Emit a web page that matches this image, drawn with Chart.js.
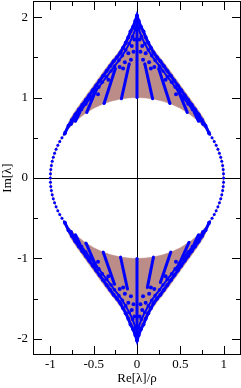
<!DOCTYPE html>
<html><head><meta charset="utf-8">
<script src="https://cdn.jsdelivr.net/npm/chart.js@4.4.1/dist/chart.umd.min.js"></script>
<style>html,body{margin:0;padding:0;background:#fff;}canvas{display:block;}</style>
</head><body>
<canvas id="c" width="241" height="388"></canvas>
<script>
// ---- axis ticks ----
const xTickValues = [-1, -0.5, 0, 0.5, 1];
const yTickValues = [-2, -1, 0, 1, 2];
const xMinorTicks = [-0.75, -0.25, 0.25, 0.75];
const yMinorTicks = [-1.5, -0.5, 0.5, 1.5];
const xTitle = 'Re[λ]/ρ';
const yTitle = 'Im[λ]';

// ---- brown filled bands (outline of region) ----
const brownUpper = [[0,2.03],[0.04,1.92],[0.08,1.82],[0.13,1.71],[0.18,1.62],[0.24,1.53],[0.30,1.45],[0.37,1.35],[0.45,1.23],[0.53,1.11],[0.61,0.99],[0.69,0.87],[0.77,0.74],[0.845,0.55],
  [0.80,0.60],[0.70,0.714],[0.60,0.80],[0.50,0.866],[0.40,0.917],[0.30,0.954],[0.20,0.98],[0.10,0.995],[0,1],[-0.10,0.995],[-0.20,0.98],[-0.30,0.954],[-0.40,0.917],[-0.50,0.866],[-0.60,0.80],[-0.70,0.714],[-0.80,0.60],
  [-0.845,0.55],[-0.77,0.74],[-0.69,0.87],[-0.61,0.99],[-0.53,1.11],[-0.45,1.23],[-0.37,1.35],[-0.30,1.45],[-0.24,1.53],[-0.18,1.62],[-0.13,1.71],[-0.08,1.82],[-0.04,1.92]];
const brownLower = [[0,-2.03],[0.04,-1.92],[0.08,-1.82],[0.13,-1.71],[0.18,-1.62],[0.24,-1.53],[0.30,-1.45],[0.37,-1.35],[0.45,-1.23],[0.53,-1.11],[0.61,-0.99],[0.69,-0.87],[0.77,-0.74],[0.845,-0.55],
  [0.80,-0.60],[0.70,-0.714],[0.60,-0.80],[0.50,-0.866],[0.40,-0.917],[0.30,-0.954],[0.20,-0.98],[0.10,-0.995],[0,-1],[-0.10,-0.995],[-0.20,-0.98],[-0.30,-0.954],[-0.40,-0.917],[-0.50,-0.866],[-0.60,-0.80],[-0.70,-0.714],[-0.80,-0.60],
  [-0.845,-0.55],[-0.77,-0.74],[-0.69,-0.87],[-0.61,-0.99],[-0.53,-1.11],[-0.45,-1.23],[-0.37,-1.35],[-0.30,-1.45],[-0.24,-1.53],[-0.18,-1.62],[-0.13,-1.71],[-0.08,-1.82],[-0.04,-1.92]];

// ---- eigenvalues on the unit circle ----
const circleRight = [[0.8387,0.5446],[0.8660,0.5000],[0.8910,0.4540],[0.9135,0.4067],[0.9336,0.3584],[0.9511,0.3090],[0.9659,0.2588],[0.9781,0.2079],[0.9877,0.1564],[0.9945,0.1045],[0.9986,0.0523],[1,0],
  [0.9986,-0.0523],[0.9945,-0.1045],[0.9877,-0.1564],[0.9781,-0.2079],[0.9659,-0.2588],[0.9511,-0.3090],[0.9336,-0.3584],[0.9135,-0.4067],[0.8910,-0.4540],[0.8660,-0.5000],[0.8387,-0.5446]];
const circleLeft = [[-0.8387,0.5446],[-0.8660,0.5000],[-0.8910,0.4540],[-0.9135,0.4067],[-0.9336,0.3584],[-0.9511,0.3090],[-0.9659,0.2588],[-0.9781,0.2079],[-0.9877,0.1564],[-0.9945,0.1045],[-0.9986,0.0523],[-1,0],
  [-0.9986,-0.0523],[-0.9945,-0.1045],[-0.9877,-0.1564],[-0.9781,-0.2079],[-0.9659,-0.2588],[-0.9511,-0.3090],[-0.9336,-0.3584],[-0.9135,-0.4067],[-0.8910,-0.4540],[-0.8660,-0.5000],[-0.8387,-0.5446]];

// ---- eigenvalues along the outer edges ----
const outerUpper = [[-0.83,0.56],[-0.79,0.65],[-0.75,0.72],[-0.71,0.79],[-0.67,0.85],[-0.63,0.91],[-0.59,0.97],[-0.55,1.03],[-0.51,1.09],[-0.47,1.15],[-0.43,1.21],[-0.39,1.27],[-0.35,1.33],[-0.31,1.39],[-0.27,1.45],[-0.23,1.50],[-0.19,1.56],[-0.16,1.62],[-0.13,1.68],[-0.10,1.75],[-0.075,1.82],[-0.045,1.88],[-0.02,1.95],
  [0,2.02],[0.02,1.95],[0.045,1.88],[0.075,1.82],[0.10,1.75],[0.13,1.68],[0.16,1.62],[0.19,1.56],[0.23,1.50],[0.27,1.45],[0.31,1.39],[0.35,1.33],[0.39,1.27],[0.43,1.21],[0.47,1.15],[0.51,1.09],[0.55,1.03],[0.59,0.97],[0.63,0.91],[0.67,0.85],[0.71,0.79],[0.75,0.72],[0.79,0.65],[0.83,0.56]];
const outerLower = [[-0.83,-0.56],[-0.79,-0.65],[-0.75,-0.72],[-0.71,-0.79],[-0.67,-0.85],[-0.63,-0.91],[-0.59,-0.97],[-0.55,-1.03],[-0.51,-1.09],[-0.47,-1.15],[-0.43,-1.21],[-0.39,-1.27],[-0.35,-1.33],[-0.31,-1.39],[-0.27,-1.45],[-0.23,-1.50],[-0.19,-1.56],[-0.16,-1.62],[-0.13,-1.68],[-0.10,-1.75],[-0.075,-1.82],[-0.045,-1.88],[-0.02,-1.95],
  [0,-2.02],[0.02,-1.95],[0.045,-1.88],[0.075,-1.82],[0.10,-1.75],[0.13,-1.68],[0.16,-1.62],[0.19,-1.56],[0.23,-1.50],[0.27,-1.45],[0.31,-1.39],[0.35,-1.33],[0.39,-1.27],[0.43,-1.21],[0.47,-1.15],[0.51,-1.09],[0.55,-1.03],[0.59,-0.97],[0.63,-0.91],[0.67,-0.85],[0.71,-0.79],[0.75,-0.72],[0.79,-0.65],[0.83,-0.56]];
const innerUpper = [[-0.76,0.67],[-0.70,0.77],[-0.64,0.85],[-0.59,0.92],[-0.54,0.99],[-0.49,1.06],[-0.44,1.13],[-0.40,1.19],[-0.35,1.26],[-0.30,1.33],[-0.26,1.39],[-0.21,1.46],[-0.17,1.52],[-0.13,1.59],[-0.09,1.67],[-0.05,1.76],[-0.02,1.85],
  [0,1.90],[0.02,1.85],[0.05,1.76],[0.09,1.67],[0.13,1.59],[0.17,1.52],[0.21,1.46],[0.26,1.39],[0.30,1.33],[0.35,1.26],[0.40,1.19],[0.44,1.13],[0.49,1.06],[0.54,0.99],[0.59,0.92],[0.64,0.85],[0.70,0.77],[0.76,0.67]];
const innerLower = [[-0.76,-0.67],[-0.70,-0.77],[-0.64,-0.85],[-0.59,-0.92],[-0.54,-0.99],[-0.49,-1.06],[-0.44,-1.13],[-0.40,-1.19],[-0.35,-1.26],[-0.30,-1.33],[-0.26,-1.39],[-0.21,-1.46],[-0.17,-1.52],[-0.13,-1.59],[-0.09,-1.67],[-0.05,-1.76],[-0.02,-1.85],
  [0,-1.90],[0.02,-1.85],[0.05,-1.76],[0.09,-1.67],[0.13,-1.59],[0.17,-1.52],[0.21,-1.46],[0.26,-1.39],[0.30,-1.33],[0.35,-1.26],[0.40,-1.19],[0.44,-1.13],[0.49,-1.06],[0.54,-0.99],[0.59,-0.92],[0.64,-0.85],[0.70,-0.77],[0.76,-0.67]];
// scattered eigenvalue clusters in the cusps
const clusterUpper = [[-0.14,1.44],[-0.07,1.47],[0.07,1.47],[0.14,1.44],[-0.10,1.55],[-0.04,1.57],[0.04,1.57],[0.10,1.55],[-0.06,1.64],[0.06,1.64],[-0.03,1.72],[0.03,1.72],[-0.20,1.38],[0.20,1.38],[-0.16,1.36],[0.16,1.36],[-0.33,1.22],[0.33,1.22],[-0.45,1.04],[0.45,1.04]];
const clusterLower = [[-0.14,-1.44],[-0.07,-1.47],[0.07,-1.47],[0.14,-1.44],[-0.10,-1.55],[-0.04,-1.57],[0.04,-1.57],[0.10,-1.55],[-0.06,-1.64],[0.06,-1.64],[-0.03,-1.72],[0.03,-1.72],[-0.20,-1.38],[0.20,-1.38],[-0.16,-1.36],[0.16,-1.36],[-0.33,-1.22],[0.33,-1.22],[-0.45,-1.04],[0.45,-1.04]];

// ---- eigenvalue rays across the bands ----
const raysUpper = [
  [[0,1.0],[0,1.96]],
  [[0.18,0.984],[0.09,1.42]], [[-0.18,0.984],[-0.09,1.42]],
  [[0.38,0.925],[0.25,1.36]], [[-0.38,0.925],[-0.25,1.36]],
  [[0.58,0.815],[0.47,1.10]], [[-0.58,0.815],[-0.47,1.10]],
  [[0.71,0.704],[0.66,0.82]], [[-0.71,0.704],[-0.66,0.82]]];
const raysLower = [
  [[0,-1.0],[0,-1.96]],
  [[0.19,-0.982],[0.12,-1.36]], [[-0.19,-0.982],[-0.11,-1.38]],
  [[0.39,-0.921],[0.27,-1.30]], [[-0.39,-0.921],[-0.26,-1.32]],
  [[0.60,-0.80],[0.47,-1.11]], [[-0.59,-0.807],[-0.47,-1.10]],
  [[0.71,-0.704],[0.66,-0.82]], [[-0.71,-0.704],[-0.66,-0.82]]];

// ---- styles ----
const BLUE = '#0000ff';
const BROWN = 'rgb(188,140,136)';
const FONT = {family: "'Liberation Serif', 'DejaVu Serif', serif", size: 13};

const toXY = arr => arr.map(p => ({x: p[0], y: p[1]}));
const datasets = [];
[brownUpper, brownLower].forEach(b => datasets.push({
  data: toXY(b), showLine: true, fill: 'shape', backgroundColor: BROWN, borderColor: BROWN,
  borderWidth: 0.5, pointRadius: 0, order: 10
}));
[circleRight, circleLeft].forEach(c => datasets.push({
  data: toXY(c), showLine: true, fill: false, borderColor: BROWN, borderWidth: 1,
  pointRadius: 1.5, pointBackgroundColor: BLUE, pointBorderWidth: 0, order: 5
}));
[...raysUpper, ...raysLower].forEach(r => datasets.push({
  data: toXY(r), showLine: true, fill: false, borderColor: BLUE, borderWidth: 3,
  pointRadius: 1.5, pointBackgroundColor: BLUE, pointBorderWidth: 0, order: 4
}));
[innerUpper, innerLower].forEach(c => datasets.push({
  data: toXY(c), showLine: true, fill: false, borderColor: BLUE, borderWidth: 2,
  pointRadius: 1.8, pointBackgroundColor: BLUE, pointBorderWidth: 0, order: 3
}));
[clusterUpper, clusterLower].forEach(c => datasets.push({
  data: toXY(c), showLine: false, fill: false,
  pointRadius: 2, pointBackgroundColor: BLUE, pointBorderWidth: 0, order: 3
}));
[outerUpper, outerLower].forEach(c => datasets.push({
  data: toXY(c), showLine: true, fill: false, borderColor: BLUE, borderWidth: 3,
  pointRadius: 2, pointBackgroundColor: BLUE, pointBorderWidth: 0, order: 2
}));

const frameTicks = {
  id: 'frameTicks',
  afterDatasetsDraw(chart) {
    const {ctx, chartArea: a, scales: {x, y}} = chart;
    ctx.save();
    ctx.strokeStyle = '#000';
    ctx.lineWidth = 1;
    ctx.beginPath();
    const tick = (vals, len) => {
      vals.forEach(v => {
        const px = Math.round(x.getPixelForValue(v)) + 0.5;
        ctx.moveTo(px, a.bottom); ctx.lineTo(px, a.bottom - len);
        ctx.moveTo(px, a.top); ctx.lineTo(px, a.top + len);
      });
    };
    const tickY = (vals, len) => {
      vals.forEach(v => {
        const py = Math.round(y.getPixelForValue(v)) + 0.5;
        ctx.moveTo(a.left, py); ctx.lineTo(a.left + len, py);
        ctx.moveTo(a.right, py); ctx.lineTo(a.right - len, py);
      });
    };
    tick(xTickValues, 9); tick(xMinorTicks, 5);
    tickY(yTickValues, 9); tickY(yMinorTicks, 5);
    ctx.stroke();
    ctx.strokeRect(a.left + 0.5, a.top + 0.5, a.right - a.left - 1, a.bottom - a.top - 1);
    ctx.restore();
  }
};

new Chart(document.getElementById('c'), {
  type: 'scatter',
  data: {datasets},
  options: {
    responsive: false, animation: false, devicePixelRatio: 1,
    layout: {autoPadding: false, padding: {top: 1, right: 0, left: 0, bottom: 0}},
    plugins: {legend: {display: false}, tooltip: {enabled: false}},
    elements: {line: {tension: 0}},
    scales: {
      x: {
        type: 'linear', min: -1.2, max: 1.2,
        afterBuildTicks: s => { s.ticks = xTickValues.map(v => ({value: v})); },
        afterFit: s => { s.height = 33; s.paddingLeft = 0; s.paddingRight = 0; s.paddingTop = 0; s.paddingBottom = 0; },
        ticks: {font: FONT, color: '#000', padding: 2, maxRotation: 0, autoSkip: false, callback: v => String(v)},
        grid: {drawTicks: false, lineWidth: 1, color: c => (c.tick && c.tick.value === 0) ? '#000' : 'rgba(0,0,0,0)'},
        border: {display: false},
        title: {display: true, text: xTitle, font: FONT, color: '#000', padding: {top: 0, bottom: 2}}
      },
      y: {
        type: 'linear', min: -2.2, max: 2.2,
        afterBuildTicks: s => { s.ticks = yTickValues.map(v => ({value: v})); },
        afterFit: s => { s.width = 33; s.paddingLeft = 0; s.paddingRight = 0; s.paddingTop = 0; s.paddingBottom = 0; },
        ticks: {font: FONT, color: '#000', padding: 5, autoSkip: false, callback: v => String(v)},
        grid: {drawTicks: false, lineWidth: 1, color: c => (c.tick && c.tick.value === 0) ? '#000' : 'rgba(0,0,0,0)'},
        border: {display: false},
        title: {display: true, text: yTitle, font: FONT, color: '#000', padding: {top: 0, bottom: 0}}
      }
    }
  },
  plugins: [frameTicks]
});
</script>
</body></html>
